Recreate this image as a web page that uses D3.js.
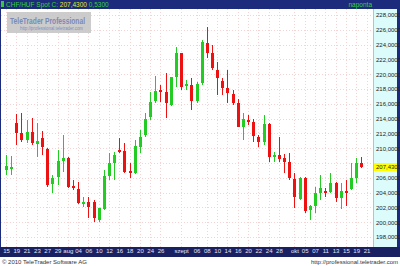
<!DOCTYPE html>
<html>
<head>
<meta charset="utf-8">
<script src="https://cdn.jsdelivr.net/npm/d3@7"></script>
<style>
  body { margin: 0; background: #fff; }
  svg { display: block; font-family: "Liberation Sans", Arial, sans-serif; }
</style>
</head>
<body>
<div id="mainDiv"></div>
<script>
'use strict';

// daily candles, 15 Jul - 20 Oct
var opens = [207.1, 207.2, 213.4, 212.05, 211.1, 212.2, 210.55, 211.4, 209.9, 205.15,
  206.1, 208.25, 208.7, 204.9, 204.5, 202.45, 202.75, 202.75, 200.3, 201.8,
  206.25, 208.0, 209.75, 209.6, 206.9, 206.65, 210.15, 211.8, 214.2, 216.4,
  217.85, 217.6, 215.85, 219.6, 222.85, 218.4, 218.55, 216.4, 218.8, 224.2,
  222.85, 220.55, 219.1, 218.15, 217.3, 216.1, 212.85, 213.8, 213.55, 211.5,
  210.85, 213.25, 208.8, 209.1, 208.7, 208.15, 205.85, 203.15, 205.95, 201.65,
  202.2, 203.95, 204.2, 204.1, 205.3, 203.25, 204.2, 204.5, 205.95, 208.0];
var highs = [209.1, 209.0, 214.6, 214.75, 213.8, 214.1, 213.4, 212.3, 210.05, 206.4,
  209.75, 211.8, 208.8, 205.7, 205.45, 203.4, 203.4, 203.0, 201.95, 207.05,
  209.35, 209.5, 211.4, 210.7, 208.0, 211.1, 212.45, 214.75, 217.6, 219.75,
  218.55, 220.15, 219.65, 223.7, 222.9, 219.2, 219.5, 218.95, 224.6, 226.4,
  223.95, 221.65, 219.5, 220.55, 217.85, 216.65, 214.75, 214.5, 213.95, 211.8,
  214.5, 213.4, 209.5, 211.5, 209.2, 209.35, 206.65, 206.1, 206.1, 202.3,
  204.75, 206.4, 204.6, 206.65, 205.45, 205.3, 205.7, 208.0, 208.7, 208.8];
var lows = [206.4, 206.4, 210.45, 210.85, 210.7, 210.45, 208.8, 209.1, 204.75, 203.95,
  205.05, 206.8, 204.6, 204.35, 202.45, 202.05, 200.55, 200.05, 200.05, 201.65,
  205.7, 205.7, 209.4, 206.65, 205.95, 206.5, 209.35, 211.5, 213.8, 216.1,
  216.25, 214.1, 215.7, 218.25, 217.85, 217.85, 215.15, 216.1, 218.55, 222.2,
  220.55, 217.2, 217.2, 216.1, 215.85, 212.8, 211.1, 213.15, 210.85, 210.15,
  210.45, 208.15, 208.15, 208.15, 206.65, 205.7, 201.9, 203.0, 201.25, 200.3,
  201.25, 203.0, 203.4, 203.95, 202.75, 201.8, 202.2, 204.35, 205.3, 207.3];
var closes = [207.6, 207.5, 212.05, 211.1, 212.2, 210.7, 210.95, 210.15, 205.05, 205.95,
  208.25, 208.7, 204.75, 204.6, 202.6, 202.75, 202.05, 200.55, 201.9, 206.25,
  208.0, 209.1, 209.5, 206.8, 206.65, 210.3, 211.5, 213.95, 216.25, 217.75,
  217.6, 216.1, 219.6, 222.85, 218.25, 218.7, 216.4, 218.7, 224.35, 222.85,
  220.85, 219.5, 218.15, 217.45, 216.1, 212.85, 213.95, 213.7, 211.65, 210.85,
  213.25, 208.8, 209.1, 208.55, 208.15, 205.95, 203.4, 205.95, 201.5, 202.2,
  203.95, 204.6, 203.95, 205.3, 203.25, 204.2, 204.1, 205.95, 208.0, 207.43];

// x labels and the trading-day index where each sits
var xLabels = ['15', '19', '21', '23', '27', '29', 'aug', '04', '06', '10', '12', '16', '18',
  '20', '24', '26', 'szept', '06', '08', '10', '14', '16', '20', '22', '24', '28',
  'okt', '05', '07', '11', '13', '15', '19', '21'];
var xLabelIdx = [0, 2, 4, 6, 8, 10, 12, 14, 16, 18, 20, 22, 24, 26, 28, 30, 34, 37, 39, 41,
  43, 45, 47, 49, 51, 53, 56, 58, 60, 62, 64, 66, 68, 70];
var yTicks = [198, 200, 202, 204, 206, 208, 210, 212, 214, 216, 218, 220, 222, 224, 226, 228];

var lastPrice = 207.43;
var change = 0.53;

var myApp = {};
myApp.w = 400;
myApp.h = 266;
myApp.plot = {left: 1, right: 373, top: 9, bottom: 247};
myApp.svg = undefined;
myApp.x = undefined;
myApp.y = undefined;

myApp.fmt = function(v)
{
    return v.toFixed(4).replace('.', ',');
}

myApp.appendSvg = function(div)
{
    myApp.svg = d3.select(div).append('svg')
        .attr('width', myApp.w)
        .attr('height', myApp.h);

    myApp.x = d3.scaleLinear().domain([0, 70]).range([6, 366.5]);
    myApp.y = d3.scaleLinear().domain([198, 228]).range([237, 15]);
}

myApp.buildFrame = function()
{
    var p = myApp.plot;
    var svg = myApp.svg;

    // right price panel
    svg.append('rect')
        .attr('x', p.right).attr('y', p.top)
        .attr('width', myApp.w - p.right).attr('height', p.bottom - p.top)
        .style('fill', '#dcfbfb');
    svg.append('line')
        .attr('x1', p.right + 0.5).attr('x2', p.right + 0.5)
        .attr('y1', p.top).attr('y2', p.bottom)
        .style('stroke', '#c9c58a');

    // grid
    var grid = svg.append('g').attr('class', 'grid');
    grid.selectAll('line.h')
        .data(yTicks)
        .enter()
        .append('line')
        .attr('x1', p.left).attr('x2', p.right)
        .attr('y1', function(d){ return Math.round(myApp.y(d)) + 0.5; })
        .attr('y2', function(d){ return Math.round(myApp.y(d)) + 0.5; })
        .style('stroke', '#f5d3d3')
        .style('stroke-dasharray', '1,2');
    grid.selectAll('line.v')
        .data(xLabelIdx)
        .enter()
        .append('line')
        .attr('y1', p.top).attr('y2', p.bottom)
        .attr('x1', function(d){ return Math.round(myApp.x(d)) + 0.5; })
        .attr('x2', function(d){ return Math.round(myApp.x(d)) + 0.5; })
        .style('stroke', '#f5d3d3')
        .style('stroke-dasharray', '1,2');

    // header bar
    svg.append('rect')
        .attr('x', 0).attr('y', 0)
        .attr('width', myApp.w).attr('height', p.top)
        .style('fill', '#1c2b7c');
    svg.append('rect')
        .attr('x', 1).attr('y', 1)
        .attr('width', 3).attr('height', 6)
        .style('fill', '#3cc43c');
    var head = svg.append('text')
        .attr('x', 6).attr('y', 7)
        .style('font-size', '6.5px');
    head.append('tspan').text('CHF/HUF Spot C: ').style('fill', '#39d039');
    head.append('tspan').text(myApp.fmt(lastPrice)).style('fill', '#e8e820');
    head.append('tspan').text('  ' + myApp.fmt(change)).style('fill', '#39d039');
    svg.append('text')
        .attr('x', 372).attr('y', 7)
        .attr('text-anchor', 'end')
        .style('font-size', '6.5px')
        .style('fill', '#39d039')
        .text('naponta');

    // bottom axis bar + footer
    svg.append('rect')
        .attr('x', 0).attr('y', p.bottom)
        .attr('width', myApp.w).attr('height', 10)
        .style('fill', '#1a2163');
    svg.append('rect')
        .attr('x', myApp.w - 3).attr('y', 0)
        .attr('width', 3).attr('height', p.bottom)
        .style('fill', '#1c2b7c');
    svg.append('rect')
        .attr('x', 0).attr('y', 0)
        .attr('width', 1).attr('height', p.bottom)
        .style('fill', '#1c2b7c');

    svg.append('text')
        .attr('x', 2).attr('y', 264)
        .style('font-size', '6px').style('fill', '#333')
        .text('\u00a9 2010 TeleTrader Software AG');
    svg.append('text')
        .attr('x', 398).attr('y', 264)
        .attr('text-anchor', 'end')
        .style('font-size', '6px').style('fill', '#333')
        .text('http://professional.teletrader.com');

    // watermark
    svg.append('rect')
        .attr('x', 7).attr('y', 12)
        .attr('width', 84).attr('height', 21)
        .style('fill', '#c6c6c6')
        .style('opacity', 0.9);
    svg.append('text')
        .attr('x', 10).attr('y', 23.5)
        .attr('textLength', 75)
        .attr('lengthAdjust', 'spacingAndGlyphs')
        .style('font-size', '8.5px').style('font-weight', 'bold')
        .style('fill', '#7a89b8')
        .text('TeleTrader Professional');
    svg.append('text')
        .attr('x', 20).attr('y', 29.5)
        .attr('textLength', 63)
        .attr('lengthAdjust', 'spacingAndGlyphs')
        .style('font-size', '4.6px')
        .style('fill', '#7f8fc0')
        .text('http://professional.teletrader.com');
}

myApp.buildAxes = function()
{
    var p = myApp.plot;

    // the 208 label sits under the last-price marker
    var yAxis = d3.axisRight(myApp.y)
        .tickValues(yTicks.filter(function(d){ return d != 208; }))
        .tickFormat(myApp.fmt)
        .tickSize(0)
        .tickPadding(3);
    var gy = myApp.svg.append('g')
        .attr('transform', 'translate(' + p.right + ',0)')
        .call(yAxis);
    gy.select('.domain').remove();
    gy.selectAll('text')
        .style('font-size', '6px')
        .style('fill', '#222')
        .style('font-family', '"Liberation Sans", Arial, sans-serif');

    var xAxis = d3.axisBottom(myApp.x)
        .tickValues(xLabelIdx)
        .tickFormat(function(d, i){ return xLabels[i]; })
        .tickSize(0)
        .tickPadding(2);
    var gx = myApp.svg.append('g')
        .attr('transform', 'translate(0,' + p.bottom + ')')
        .call(xAxis);
    gx.select('.domain').remove();
    gx.selectAll('text')
        .style('font-size', '6px')
        .style('fill', '#e4e4f4')
        .style('font-family', '"Liberation Sans", Arial, sans-serif');

    // last price marker
    var yy = Math.round(myApp.y(lastPrice));
    myApp.svg.append('rect')
        .attr('x', p.right + 1).attr('y', yy - 4)
        .attr('width', 23).attr('height', 8)
        .style('fill', '#ffff00');
    myApp.svg.append('text')
        .attr('x', p.right + 3).attr('y', yy + 2)
        .style('font-size', '6px').style('fill', '#222')
        .text(myApp.fmt(lastPrice));
}

myApp.buildCandles = function()
{
    var x = myApp.x, y = myApp.y;
    var dt = d3.range(opens.length).map(function(i){
        return {i: i, o: opens[i], h: highs[i], l: lows[i], c: closes[i]};
    });
    var col = function(d){ return d.c >= d.o ? '#22cc22' : '#ee1111'; };

    var g = myApp.svg.append('g')
        .attr('class', 'candles')
        .style('shape-rendering', 'crispEdges');

    g.selectAll('line')
        .data(dt)
        .enter()
        .append('line')
        .attr('x1', function(d){ return Math.round(x(d.i)) + 0.5; })
        .attr('x2', function(d){ return Math.round(x(d.i)) + 0.5; })
        .attr('y1', function(d){ return y(d.h); })
        .attr('y2', function(d){ return y(d.l); })
        .style('stroke', col);

    g.selectAll('rect')
        .data(dt)
        .enter()
        .append('rect')
        .attr('x', function(d){ return Math.round(x(d.i)) - 1; })
        .attr('width', 3)
        .attr('y', function(d){ return y(Math.max(d.o, d.c)); })
        .attr('height', function(d){ return Math.max(1.5, Math.abs(y(d.o) - y(d.c))); })
        .style('fill', col);
}

myApp.run = function()
{
    myApp.appendSvg('#mainDiv');
    myApp.buildFrame();
    myApp.buildCandles();
    myApp.buildAxes();
}

window.onload = myApp.run;
</script>
</body>
</html>
